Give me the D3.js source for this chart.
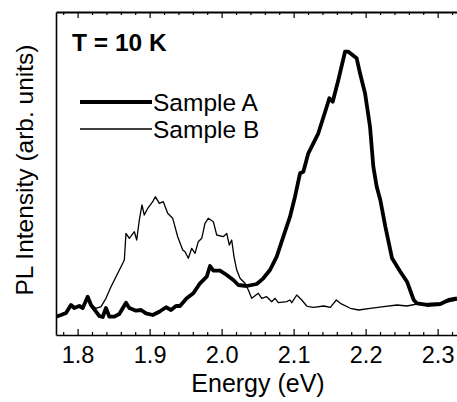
<!DOCTYPE html>
<html>
<head>
<meta charset="utf-8">
<script src="https://cdn.jsdelivr.net/npm/d3@7"></script>
<style>
  html, body { margin: 0; padding: 0; background: #fff; }
  svg { display: block; }
  text { font-family: "Liberation Sans", Arial, Helvetica, sans-serif; fill: #000; }
</style>
</head>
<body>
<div id="chart"></div>
<script>
// ---- Data ----
const energyA = [1.7700,1.7769,1.7839,1.7908,1.7954,1.8024,1.8071,1.8140,1.8186,1.8256,1.8301,1.8349,1.8394,1.8440,1.8510,1.8579,1.8672,1.8718,1.8811,1.8881,1.8950,1.9043,1.9135,1.9228,1.9297,1.9367,1.9422,1.9515,1.9607,1.9700,1.9793,1.9839,1.9885,1.9978,2.0071,2.0163,2.0232,2.0349,2.0488,2.0579,2.0672,2.0765,2.0857,2.0950,2.1019,2.1089,2.1135,2.1204,2.1251,2.1343,2.1460,2.1496,2.1543,2.1621,2.1714,2.1760,2.1876,2.1922,2.1992,2.2061,2.2107,2.2154,2.2204,2.2274,2.2367,2.2482,2.2575,2.2668,2.2714,2.2853,2.3038,2.3154,2.3269];
const intensityA = [5.67,6.19,6.81,9.29,8.36,8.98,8.36,11.86,9.29,7.21,5.88,5.57,8.36,5.67,5.67,6.50,10.0,8.36,7.52,7.74,6.72,6.19,7.21,8.58,7.74,8.98,8.98,11.36,12.91,16.01,18.05,21.36,19.91,19.91,18.58,17.03,15.48,15.17,15.79,17.55,20.12,24.24,30.43,36.63,42.82,50.06,50.56,56.25,58.30,62.45,70.68,73.28,72.23,78.95,87.71,87.71,85.67,81.02,74.83,64.49,52.11,45.91,41.80,33.53,23.75,19.60,16.50,10.84,9.81,9.29,9.60,10.84,11.36];

const energyB = [1.7700,1.7769,1.7839,1.7908,1.7954,1.8024,1.8071,1.8140,1.8186,1.8256,1.8325,1.8394,1.8464,1.8533,1.8603,1.8649,1.8672,1.8718,1.8788,1.8821,1.8857,1.8894,1.8926,1.8974,1.9043,1.9079,1.9135,1.9190,1.9251,1.9321,1.9390,1.9460,1.9492,1.9538,1.9585,1.9631,1.9676,1.9724,1.9769,1.9815,1.9885,1.9932,2.0024,2.0071,2.0107,2.0140,2.0172,2.0210,2.0256,2.0325,2.0371,2.0418,2.0510,2.0557,2.0626,2.0696,2.0742,2.0788,2.0904,2.0950,2.0974,2.1043,2.1113,2.1182,2.1210,2.1279,2.1418,2.1510,2.1593,2.1649,2.1788,2.1904,2.2065,2.2251,2.2436,2.2575,2.2714,2.2899,2.3038,2.3269];
const intensityB = [5.67,6.19,6.81,9.0,8.36,8.9,8.36,11.0,9.29,8.27,8.76,11.36,14.95,18.05,21.15,23.22,31.49,29.94,31.98,29.41,35.60,40.25,37.15,39.23,41.27,42.82,40.77,41.27,37.68,36.13,30.43,26.32,25.79,23.75,26.84,25.29,28.89,29.94,34.58,36.13,35.08,30.96,30.43,31.46,27.86,29.41,24.24,20.12,17.55,16.01,13.93,11.36,12.91,11.36,11.86,10.31,11.36,10.0,10.31,10.84,10.0,12.38,10.84,8.98,8.76,8.58,8.98,8.58,10.84,9.81,8.27,7.74,8.27,8.76,9.29,8.98,9.60,9.81,9.81,10.84];

const majorTicks = [1.8, 1.9, 2.0, 2.1, 2.2, 2.3];
const tickLabels = ["1.8", "1.9", "2.0", "2.1", "2.2", "2.3"];
const minorTicks = [1.78,1.82,1.84,1.86,1.88,1.92,1.94,1.96,1.98,2.02,2.04,2.06,2.08,2.12,2.14,2.16,2.18,2.22,2.24,2.26,2.28,2.32];
const seriesNames = ["Sample A", "Sample B"];
const tempLabel = "T = 10 K";
const xTitle = "Energy (eV)";
const yTitle = "PL Intensity (arb. units)";

// ---- Layout ----
const W = 457, H = 402;
const mLeft = 56, mRight = 457, mTop = 12, mBottom = 335;

const svg = d3.select("#chart").append("svg").attr("width", W).attr("height", H);

const x = d3.scaleLinear().domain([1.77, 2.3269]).range([mLeft, mRight]);
const y = d3.scaleLinear().domain([0, 100]).range([mBottom, mTop]);

svg.append("defs").append("clipPath").attr("id", "clip")
  .append("rect").attr("x", mLeft).attr("y", mTop).attr("width", mRight - mLeft).attr("height", mBottom - mTop);

// Curves
const line = d3.line().x(d => x(d[0])).y(d => y(d[1]));
const dataA = energyA.map((e, i) => [e, intensityA[i]]);
const dataB = energyB.map((e, i) => [e, intensityB[i]]);

const g = svg.append("g").attr("clip-path", "url(#clip)");
g.append("path").datum(dataB).attr("d", line)
  .attr("fill", "none").attr("stroke", "#000").attr("stroke-width", 1.3).attr("stroke-linejoin", "round");
g.append("path").datum(dataA).attr("d", line)
  .attr("fill", "none").attr("stroke", "#000").attr("stroke-width", 3.8).attr("stroke-linejoin", "round");

// Bottom axis (ticks inward)
const bottomMajor = d3.axisBottom(x).tickValues(majorTicks).tickFormat((d, i) => tickLabels[i])
  .tickSizeInner(-6).tickSizeOuter(0).tickPadding(11);
const gb = svg.append("g").attr("transform", `translate(0,${mBottom})`).call(bottomMajor);
gb.select(".domain").attr("stroke-width", 1.6);
gb.selectAll(".tick line").attr("stroke-width", 1.2);
gb.selectAll(".tick text").attr("font-size", 23.5).attr("font-family", "Liberation Sans, Arial, sans-serif").attr("dy", "0.71em");

const bottomMinor = d3.axisBottom(x).tickValues(minorTicks).tickFormat("").tickSizeInner(-3).tickSizeOuter(0);
const gbm = svg.append("g").attr("transform", `translate(0,${mBottom})`).call(bottomMinor);
gbm.select(".domain").remove();
gbm.selectAll(".tick line").attr("stroke-width", 1.2);

// Top axis (ticks inward)
const topMajor = d3.axisTop(x).tickValues(majorTicks).tickFormat("").tickSizeInner(-6).tickSizeOuter(0);
const gt = svg.append("g").attr("transform", `translate(0,${mTop})`).call(topMajor);
gt.select(".domain").attr("stroke-width", 2);
gt.selectAll(".tick line").attr("stroke-width", 1.2);
const topMinor = d3.axisTop(x).tickValues(minorTicks).tickFormat("").tickSizeInner(-3).tickSizeOuter(0);
const gtm = svg.append("g").attr("transform", `translate(0,${mTop})`).call(topMinor);
gtm.select(".domain").remove();
gtm.selectAll(".tick line").attr("stroke-width", 1.2);

// Left axis line (no ticks)
const leftAxis = d3.axisLeft(y).tickValues([]).tickSizeOuter(0);
const gl = svg.append("g").attr("transform", `translate(${mLeft},0)`).call(leftAxis);
gl.select(".domain").attr("stroke-width", 1.6);

// Axis titles
svg.append("text").attr("x", 258).attr("y", 392).attr("text-anchor", "middle")
  .attr("font-size", 25).text(xTitle);
svg.append("text").attr("transform", "translate(33,170) rotate(-90)").attr("text-anchor", "middle")
  .attr("font-size", 24.5).text(yTitle);

// Temperature label
svg.append("text").attr("x", 72).attr("y", 51).attr("font-size", 24.5).attr("font-weight", "bold").text(tempLabel);

// Legend
const legendY = [102, 129];
const legendW = [3.8, 1.3];
seriesNames.forEach((name, i) => {
  svg.append("line").attr("x1", 80).attr("x2", 152).attr("y1", legendY[i]).attr("y2", legendY[i])
    .attr("stroke", "#000").attr("stroke-width", legendW[i]);
  svg.append("text").attr("x", 153).attr("y", legendY[i] + 9).attr("font-size", 24.5).text(name);
});
</script>
</body>
</html>
